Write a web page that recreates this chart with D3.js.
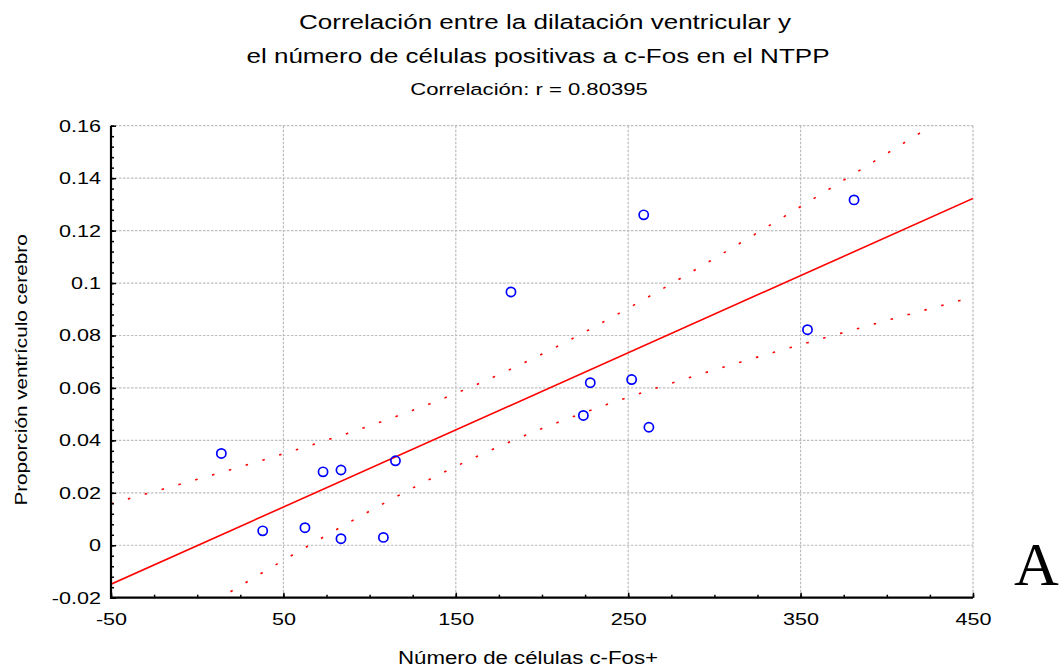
<!DOCTYPE html>
<html>
<head>
<meta charset="utf-8">
<script src="https://cdn.jsdelivr.net/npm/d3@7"></script>
<style>
  body { margin: 0; background: #fff; }
  svg { display: block; }
</style>
</head>
<body>
<svg id="chart" width="1060" height="671"></svg>
<script>
// data
const cellCounts = [14, 38, 62.5, 73, 83.4, 83.4, 108, 115, 182, 224, 228, 252, 262, 259, 354, 381];
const ventricleRatio = [0.035, 0.0055, 0.0067, 0.028, 0.0287, 0.0025, 0.003, 0.0322, 0.0966, 0.0495, 0.062, 0.0632, 0.045, 0.126, 0.0822, 0.1317];

const xTicks = [-50, 50, 150, 250, 350, 450];
const xTickLabels = ['-50', '50', '150', '250', '350', '450'];
const yTicks = [-0.02, 0, 0.02, 0.04, 0.06, 0.08, 0.1, 0.12, 0.14, 0.16];
const yTickLabels = ['-0.02', '0', '0.02', '0.04', '0.06', '0.08', '0.1', '0.12', '0.14', '0.16'];

const titleLines = ['Correlación entre la dilatación ventricular y', 'el número de células positivas a c-Fos en el NTPP'];
const subtitle = 'Correlación: r = 0.80395';
const xLabel = 'Número de células c-Fos+';
const yLabel = 'Proporción ventrículo cerebro';
const panelLetter = 'A';

const width = 1060, height = 671;
const margin = { top: 125.7, right: 87, bottom: 73.3, left: 111 };
const innerWidth = width - margin.left - margin.right;
const innerHeight = height - margin.top - margin.bottom;
const SX = 1.27; // text in the reference is drawn wide
const font = 'Liberation Sans, Arial, sans-serif';

const svg = d3.select('#chart');

const x = d3.scaleLinear().domain([-50, 450]).range([0, innerWidth]);
const y = d3.scaleLinear().domain([-0.02, 0.16]).range([innerHeight, 0]);

const g = svg.append('g').attr('transform', `translate(${margin.left},${margin.top})`);

// widen a text element horizontally, keeping its anchor
function widen(sel) {
  sel.each(function() {
    const w = this.getComputedTextLength();
    d3.select(this).attr('textLength', w * SX).attr('lengthAdjust', 'spacingAndGlyphs');
  });
}

function wideText(parent, tx, ty, str, size, anchor, rotate) {
  const t = parent.append('text')
    .attr('x', tx).attr('y', ty)
    .attr('text-anchor', anchor)
    .style('font-family', font)
    .style('font-size', size + 'px')
    .style('fill', '#000')
    .text(str);
  if (rotate) t.attr('transform', `rotate(${rotate},${tx},${ty})`);
  widen(t);
  return t;
}

// titles
wideText(svg, 545, 29, titleLines[0], 20.5, 'middle');
wideText(svg, 538, 63, titleLines[1], 20.5, 'middle');
wideText(svg, 529, 95, subtitle, 17.4, 'middle');

// grid (dotted gray), includes top and right border
g.append('g')
  .attr('stroke', '#bdbdbd')
  .attr('stroke-width', 1.2)
  .attr('stroke-dasharray', '2.5,1.5')
  .call(gr => gr.selectAll('line.h')
    .data(yTicks.slice(1))
    .join('line').classed('h', true)
    .attr('x1', 0).attr('x2', innerWidth)
    .attr('y1', d => y(d)).attr('y2', d => y(d)))
  .call(gr => gr.selectAll('line.v')
    .data(xTicks.slice(1))
    .join('line').classed('v', true)
    .attr('y1', 0).attr('y2', innerHeight)
    .attr('x1', d => x(d)).attr('x2', d => x(d)));

// regression and 95% confidence band of the mean
const n = cellCounts.length;
const mx = d3.mean(cellCounts), my = d3.mean(ventricleRatio);
const sxx = d3.sum(cellCounts, v => (v - mx) ** 2);
const sxy = d3.sum(cellCounts, (v, i) => (v - mx) * (ventricleRatio[i] - my));
const slope = sxy / sxx;
const intercept = my - slope * mx;
const sse = d3.sum(cellCounts, (v, i) => (ventricleRatio[i] - (intercept + slope * v)) ** 2);
const se = Math.sqrt(sse / (n - 2));
const tCrit = 2.1448; // t(0.975, 14)
const band = v => tCrit * se * Math.sqrt(1 / n + (v - mx) ** 2 / sxx);

svg.append('defs').append('clipPath').attr('id', 'plot-clip')
  .append('rect').attr('width', innerWidth).attr('height', innerHeight);

const xs = d3.range(-50, 450.01, 2.5);
const line = d3.line().x(d => x(d[0])).y(d => y(d[1]));
const fits = g.append('g').attr('clip-path', 'url(#plot-clip)').attr('fill', 'none');

fits.append('path')
  .attr('d', line([[-50, intercept + slope * -50], [450, intercept + slope * 450]]))
  .attr('stroke', '#ff0000')
  .attr('stroke-width', 1.6);

[1, -1].forEach(sign => {
  fits.append('path')
    .attr('d', line(xs.map(v => [v, intercept + slope * v + sign * band(v)])))
    .attr('stroke', '#ff0000')
    .attr('stroke-width', 1.6)
    .attr('stroke-dasharray', '2.5,15');
});

// points
g.append('g')
  .selectAll('circle')
  .data(d3.range(n))
  .join('circle')
  .attr('cx', i => x(cellCounts[i]))
  .attr('cy', i => y(ventricleRatio[i]))
  .attr('r', 4.6)
  .attr('fill', 'none')
  .attr('stroke', '#0000ff')
  .attr('stroke-width', 1.7);

// axes: minor + major ticks pointing inward
const xMinor = d3.range(-50, 450.01, 25);
const yMinor = d3.range(0, 46).map(i => -0.02 + i * 0.004);

g.append('g')
  .attr('transform', `translate(0,${innerHeight})`)
  .call(d3.axisTop(x).tickValues(xMinor).tickSize(3).tickFormat(''))
  .call(a => a.select('.domain').remove());
g.append('g')
  .attr('transform', `translate(0,${innerHeight})`)
  .call(d3.axisTop(x).tickValues(xTicks).tickSize(5).tickFormat(''))
  .call(a => a.select('.domain').remove());
g.append('g')
  .call(d3.axisRight(y).tickValues(yMinor).tickSize(3).tickFormat(''))
  .call(a => a.select('.domain').remove());
g.append('g')
  .call(d3.axisRight(y).tickValues(yTicks).tickSize(5).tickFormat(''))
  .call(a => a.select('.domain').remove());
g.selectAll('.tick line').attr('stroke', '#000').attr('stroke-width', 1.5);

// tick labels
g.append('g')
  .attr('transform', `translate(0,${innerHeight})`)
  .call(d3.axisBottom(x).tickValues(xTicks).tickSize(0).tickPadding(15)
    .tickFormat((d, i) => xTickLabels[i]))
  .call(a => a.select('.domain').remove())
  .call(a => a.selectAll('text')
    .style('font-family', font)
    .style('font-size', '17px')
    .style('fill', '#000')
    .call(widen));

g.append('g')
  .call(d3.axisLeft(y).tickValues(yTicks).tickSize(0).tickPadding(10)
    .tickFormat((d, i) => yTickLabels[i]))
  .call(a => a.select('.domain').remove())
  .call(a => a.selectAll('text')
    .style('font-family', font)
    .style('font-size', '17px')
    .style('fill', '#000')
    .call(widen));

// axis lines
g.append('line').attr('x1', 0).attr('x2', 0).attr('y1', 0).attr('y2', innerHeight + 1)
  .attr('stroke', '#000').attr('stroke-width', 2.2);
g.append('line').attr('x1', -1).attr('x2', innerWidth).attr('y1', innerHeight).attr('y2', innerHeight)
  .attr('stroke', '#000').attr('stroke-width', 2.2);

// axis titles
wideText(svg, 528, 664, xLabel, 17.5, 'middle');
wideText(svg, 27, 370, yLabel, 16.3, 'middle', -90);

// panel letter
svg.append('text')
  .attr('x', 1014).attr('y', 585)
  .style('font-family', 'Liberation Serif, Times New Roman, serif')
  .style('font-size', '62px')
  .style('fill', '#000')
  .text(panelLetter);
</script>
</body>
</html>
